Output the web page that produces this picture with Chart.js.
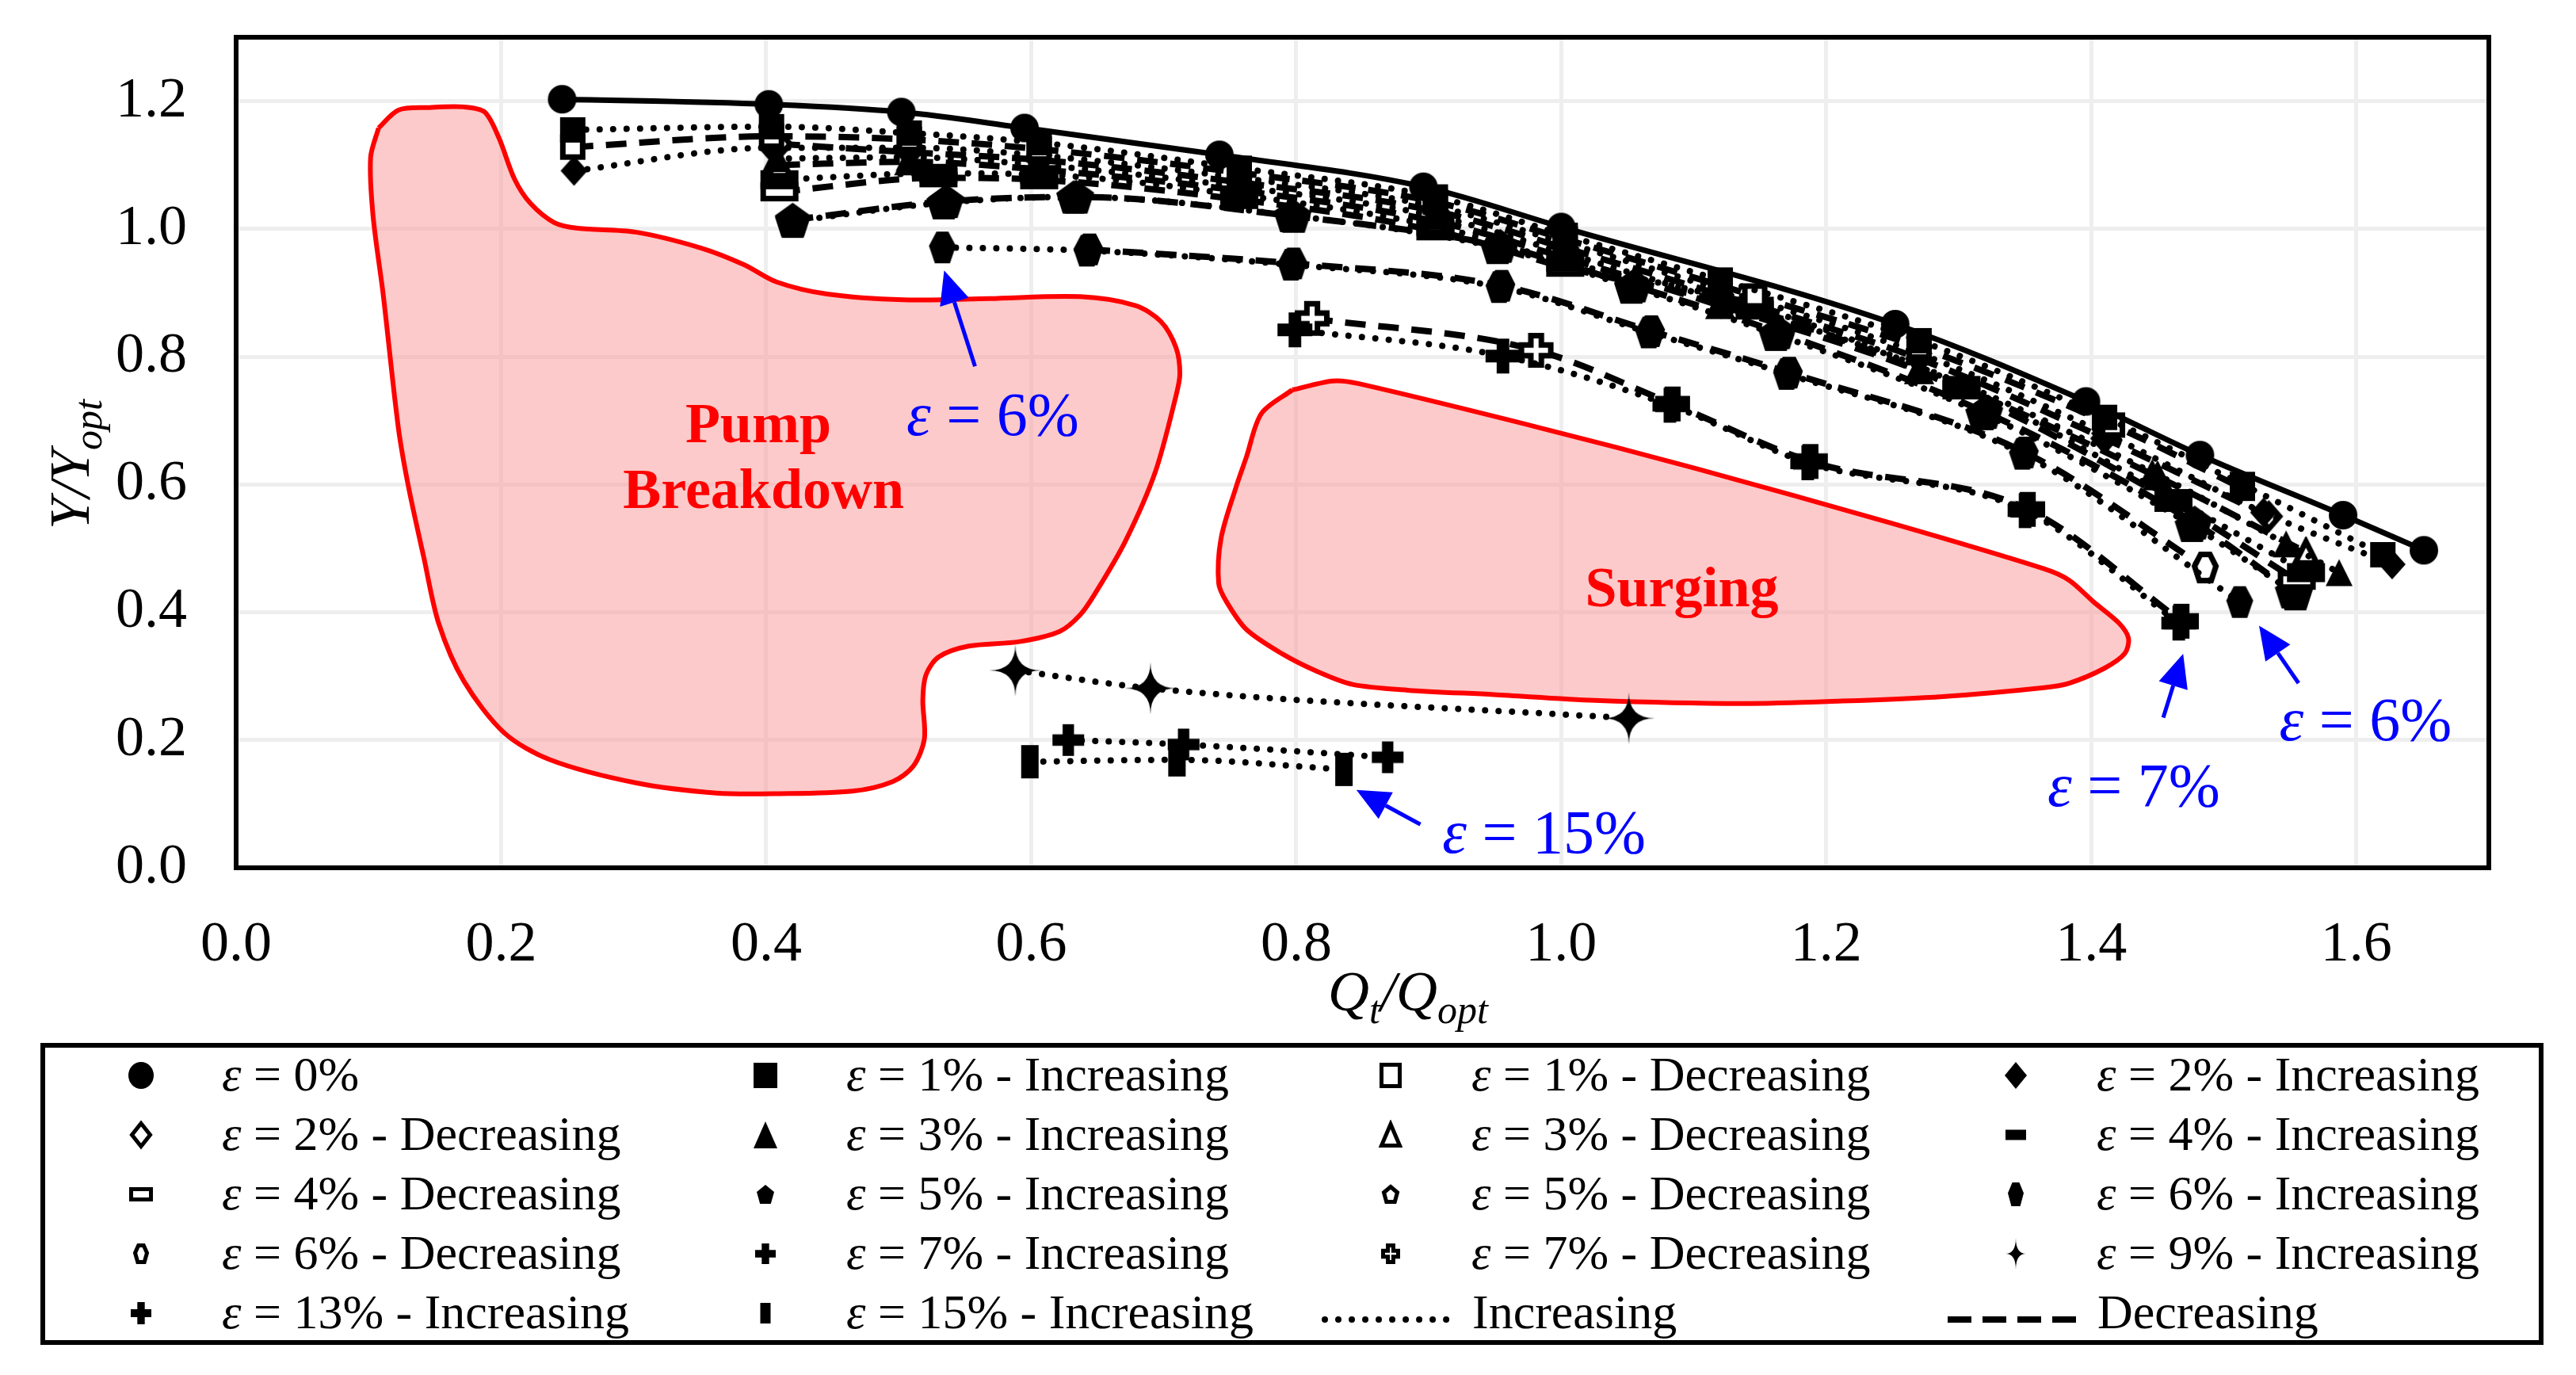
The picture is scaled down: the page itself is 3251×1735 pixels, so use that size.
<!DOCTYPE html>
<html>
<head>
<meta charset="utf-8">
<title>Head vs flow with gas volume fraction</title>
<script src="https://cdn.jsdelivr.net/npm/chart.js@4.4.1/dist/chart.umd.min.js"></script>
<style>
  html, body { margin: 0; padding: 0; background: #fff; }
  canvas { display: block; }
</style>
</head>
<body>
<canvas id="chart" width="3251" height="1735"></canvas>
<script>
// Axis ticks
const tickQ = [0.0, 0.2, 0.4, 0.6, 0.8, 1.0, 1.2, 1.4, 1.6];
const tickY = [0.0, 0.2, 0.4, 0.6, 0.8, 1.0, 1.2];

// eps = 0%
const q_e0 = [0.246, 0.402, 0.502, 0.595, 0.742, 0.896, 1.000, 1.252, 1.396, 1.482, 1.590, 1.651];
const y_e0 = [1.203, 1.195, 1.183, 1.158, 1.116, 1.066, 1.003, 0.851, 0.730, 0.646, 0.552, 0.497];

// eps = 1%
const q_e1i = [0.254, 0.404, 0.508, 0.606, 0.757, 0.905, 1.003, 1.120, 1.270, 1.410, 1.514, 1.620];
const y_e1i = [1.155, 1.160, 1.150, 1.135, 1.095, 1.050, 0.990, 0.920, 0.825, 0.705, 0.600, 0.490];
const q_e1d = [0.254, 0.404, 0.508, 0.606, 0.757, 0.905, 1.003, 1.146, 1.270, 1.416, 1.514];
const y_e1d = [1.128, 1.145, 1.140, 1.125, 1.088, 1.042, 0.984, 0.895, 0.815, 0.693, 0.594];

// eps = 2%
const q_e2i = [0.255, 0.404, 0.508, 0.606, 0.757, 0.905, 1.003, 1.120, 1.270, 1.410, 1.530, 1.627];
const y_e2i = [1.091, 1.127, 1.127, 1.115, 1.080, 1.035, 0.978, 0.905, 0.805, 0.680, 0.556, 0.475];
const q_e2d = [0.410, 0.508, 0.606, 0.757, 0.905, 1.003, 1.120, 1.270, 1.410, 1.534];
const y_e2d = [1.133, 1.120, 1.108, 1.073, 1.028, 0.970, 0.897, 0.797, 0.672, 0.550];

// eps = 3%
const q_e3i = [0.407, 0.508, 0.606, 0.757, 0.905, 1.003, 1.120, 1.270, 1.446, 1.547, 1.587];
const y_e3i = [1.110, 1.112, 1.100, 1.066, 1.020, 0.962, 0.888, 0.785, 0.619, 0.507, 0.462];
const q_e3d = [0.410, 0.508, 0.606, 0.757, 0.905, 1.003, 1.120, 1.270, 1.450, 1.562];
const y_e3d = [1.100, 1.105, 1.093, 1.060, 1.012, 0.955, 0.880, 0.778, 0.612, 0.494];

// eps = 4%
const q_e4i = [0.410, 0.530, 0.606, 0.757, 0.905, 1.003, 1.146, 1.302, 1.462, 1.562];
const y_e4i = [1.077, 1.087, 1.085, 1.053, 1.004, 0.948, 0.879, 0.755, 0.578, 0.462];
const q_e4d = [0.410, 0.530, 0.606, 0.757, 0.905, 1.003, 1.146, 1.302, 1.462, 1.555];
const y_e4d = [1.058, 1.080, 1.077, 1.046, 0.997, 0.940, 0.873, 0.748, 0.572, 0.450];

// eps = 5%
const q_e5i = [0.420, 0.534, 0.632, 0.796, 0.952, 1.053, 1.162, 1.318, 1.476, 1.554];
const y_e5i = [1.012, 1.041, 1.050, 1.021, 0.971, 0.909, 0.835, 0.711, 0.536, 0.429];
const q_e5d = [0.420, 0.536, 0.634, 0.798, 0.954, 1.055, 1.164, 1.320, 1.478, 1.552];
const y_e5d = [1.014, 1.043, 1.050, 1.020, 0.973, 0.911, 0.838, 0.713, 0.540, 0.432];

// eps = 6%
const q_e6i = [0.533, 0.642, 0.796, 0.953, 1.066, 1.170, 1.348, 1.512];
const y_e6i = [0.971, 0.966, 0.944, 0.909, 0.838, 0.773, 0.648, 0.416];
const q_e6d = [0.644, 0.798, 0.955, 1.068, 1.172, 1.350, 1.486];
const y_e6d = [0.968, 0.946, 0.911, 0.840, 0.775, 0.650, 0.470];

// eps = 7%
const q_e7i = [0.799, 0.956, 1.082, 1.186, 1.350, 1.466];
const y_e7i = [0.842, 0.801, 0.724, 0.634, 0.559, 0.383];
const q_e7d = [0.812, 0.981, 1.084, 1.188, 1.352, 1.468];
const y_e7d = [0.860, 0.810, 0.726, 0.636, 0.561, 0.386];

// eps = 9%, 13%, 15%
const q_e9i = [0.588, 0.690, 1.051];
const y_e9i = [0.309, 0.281, 0.234];
const q_e13i = [0.628, 0.715, 0.869];
const y_e13i = [0.200, 0.193, 0.173];
const q_e15i = [0.599, 0.710, 0.836];
const y_e15i = [0.166, 0.169, 0.154];

// Operating zones (outline, clockwise)
const pumpQ = [0.1075, 0.1224, 0.1445, 0.1719, 0.1875, 0.1982, 0.2101, 0.2221, 0.2400, 0.2579, 0.3015, 0.3510,
  0.3833, 0.4078, 0.4460, 0.5033, 0.5684, 0.6370, 0.6788, 0.6979, 0.7093, 0.7122, 0.7093, 0.6937, 0.6710,
  0.6484, 0.6370, 0.6215, 0.5910, 0.5528, 0.5301, 0.5206, 0.5182, 0.5194, 0.5110, 0.4955, 0.4651, 0.4084,
  0.3624, 0.3015, 0.2370, 0.2024, 0.1719, 0.1528, 0.1415, 0.1301, 0.1224, 0.1110, 0.1033, 0.1015, 0.1075];
const pumpY = [1.158, 1.186, 1.190, 1.191, 1.183, 1.143, 1.078, 1.040, 1.010, 1.001, 0.995, 0.970,
  0.944, 0.917, 0.898, 0.889, 0.891, 0.894, 0.880, 0.855, 0.814, 0.773, 0.739, 0.620, 0.511,
  0.430, 0.396, 0.370, 0.354, 0.347, 0.330, 0.302, 0.263, 0.202, 0.159, 0.135, 0.120, 0.116,
  0.117, 0.133, 0.169, 0.211, 0.292, 0.383, 0.487, 0.596, 0.689, 0.897, 1.021, 1.112, 1.158];

const surgeQ = [0.7970, 0.8275, 0.8466, 0.9833, 1.1015, 1.2496, 1.3642, 1.3833, 1.4018, 1.4209, 1.4281, 1.4251,
  1.4096, 1.3833, 1.3642, 1.2878, 1.2119, 1.1355, 1.0251, 0.9493, 0.8842, 0.8424, 0.8161, 0.7893,
  0.7624, 0.7475, 0.7415, 0.7433, 0.7546, 0.7624, 0.7737, 0.7970];
const surgeY = [0.748, 0.762, 0.758, 0.689, 0.625, 0.539, 0.468, 0.450, 0.416, 0.383, 0.359, 0.335,
  0.312, 0.289, 0.282, 0.268, 0.261, 0.257, 0.262, 0.271, 0.278, 0.287, 0.307, 0.335,
  0.373, 0.416, 0.445, 0.516, 0.596, 0.643, 0.711, 0.748];

// Annotations (data coordinates)
const zoneLabels = [
  { text: 'Pump', q: 0.394, y: 0.666 },
  { text: 'Breakdown', q: 0.398, y: 0.563 },
  { text: 'Surging', q: 1.091, y: 0.409 }
];
const epsLabels = [
  { text: ' = 6%', q: 0.571, y: 0.677 },
  { text: ' = 15%', q: 0.987, y: 0.024 },
  { text: ' = 7%', q: 1.432, y: 0.097 },
  { text: ' = 6%', q: 1.607, y: 0.200 }
];
const arrows = [
  { q0: 0.5576, y0: 0.785, q1: 0.5343, y1: 0.935 },
  { q0: 0.8937, y0: 0.068, q1: 0.8454, y1: 0.122 },
  { q0: 1.4543, y0: 0.235, q1: 1.4693, y1: 0.335 },
  { q0: 1.5564, y0: 0.289, q1: 1.5266, y1: 0.379 }
];

const SERIF = "'Liberation Serif', 'Times New Roman', serif";

const POLY = {
  rect: [[0, 0], [1, 0], [1, 1], [0, 1]],
  diamond: [[0.5, 0], [1, 0.5], [0.5, 1], [0, 0.5]],
  triangle: [[0.5, 0], [1, 1], [0, 1]],
  pentagon: [[0.5, 0], [1, 0.38], [0.81, 1], [0.19, 1], [0, 0.38]],
  hexagon: [[0.28, 0], [0.72, 0], [1, 0.45], [0.78, 1], [0.22, 1], [0, 0.45]],
  cross: [[0.32, 0], [0.68, 0], [0.68, 0.32], [1, 0.32], [1, 0.68], [0.68, 0.68], [0.68, 1], [0.32, 1],
    [0.32, 0.68], [0, 0.68], [0, 0.32], [0.32, 0.32]]
};

function shapePath(g, shape, w, h) {
  g.beginPath();
  if (shape === 'circle') {
    g.ellipse(w / 2, h / 2, w / 2, h / 2, 0, 0, Math.PI * 2);
    return;
  }
  if (shape === 'star') {
    const cx = w / 2, cy = h / 2;
    g.moveTo(cx, 0);
    g.quadraticCurveTo(cx, cy, w, cy);
    g.quadraticCurveTo(cx, cy, cx, h);
    g.quadraticCurveTo(cx, cy, 0, cy);
    g.quadraticCurveTo(cx, cy, cx, 0);
    g.closePath();
    return;
  }
  POLY[shape].forEach((p, i) => {
    if (i === 0) g.moveTo(p[0] * w, p[1] * h);
    else g.lineTo(p[0] * w, p[1] * h);
  });
  g.closePath();
}

// Marker bitmap used as pointStyle
function makeMarker(shape, w, h, hollow, lw) {
  const pad = 3;
  const c = document.createElement('canvas');
  c.width = w + pad * 2;
  c.height = h + pad * 2;
  const g = c.getContext('2d');
  if (hollow) {
    g.translate(pad + lw / 2, pad + lw / 2);
    shapePath(g, shape, w - lw, h - lw);
    g.fillStyle = '#fff';
    g.fill();
    g.lineWidth = lw;
    g.lineJoin = 'miter';
    g.strokeStyle = '#000';
    g.stroke();
  } else {
    g.translate(pad, pad);
    shapePath(g, shape, w, h);
    g.fillStyle = '#000';
    g.fill();
  }
  return c;
}

const series = [
  { label: ' = 0%', q: q_e0, y: y_e0, shape: 'circle', hollow: false, line: 'solid', plot: [36, 36], leg: [32, 34] },
  { label: ' = 1% - Increasing', q: q_e1i, y: y_e1i, shape: 'rect', hollow: false, line: 'dot', plot: [32, 32], leg: [30, 32] },
  { label: ' = 1% - Decreasing', q: q_e1d, y: y_e1d, shape: 'rect', hollow: true, line: 'dash', plot: [32, 32], leg: [28, 32] },
  { label: ' = 2% - Increasing', q: q_e2i, y: y_e2i, shape: 'diamond', hollow: false, line: 'dot', plot: [34, 38], leg: [28, 34] },
  { label: ' = 2% - Decreasing', q: q_e2d, y: y_e2d, shape: 'diamond', hollow: true, line: 'dash', plot: [34, 38], leg: [28, 34] },
  { label: ' = 3% - Increasing', q: q_e3i, y: y_e3i, shape: 'triangle', hollow: false, line: 'dot', plot: [34, 34], leg: [30, 34] },
  { label: ' = 3% - Decreasing', q: q_e3d, y: y_e3d, shape: 'triangle', hollow: true, line: 'dash', plot: [34, 34], leg: [28, 32] },
  { label: ' = 4% - Increasing', q: q_e4i, y: y_e4i, shape: 'rect', hollow: false, line: 'dot', plot: [48, 24], leg: [26, 13] },
  { label: ' = 4% - Decreasing', q: q_e4d, y: y_e4d, shape: 'rect', hollow: true, line: 'dash', plot: [48, 24], leg: [30, 18] },
  { label: ' = 5% - Increasing', q: q_e5i, y: y_e5i, shape: 'pentagon', hollow: false, line: 'dot', plot: [44, 42], leg: [22, 24] },
  { label: ' = 5% - Decreasing', q: q_e5d, y: y_e5d, shape: 'pentagon', hollow: true, line: 'dash', plot: [44, 42], leg: [22, 24] },
  { label: ' = 6% - Increasing', q: q_e6i, y: y_e6i, shape: 'hexagon', hollow: false, line: 'dot', plot: [34, 40], leg: [20, 30] },
  { label: ' = 6% - Decreasing', q: q_e6d, y: y_e6d, shape: 'hexagon', hollow: true, line: 'dash', plot: [34, 40], leg: [20, 26] },
  { label: ' = 7% - Increasing', q: q_e7i, y: y_e7i, shape: 'cross', hollow: false, line: 'dot', plot: [44, 44], leg: [26, 26] },
  { label: ' = 7% - Decreasing', q: q_e7d, y: y_e7d, shape: 'cross', hollow: true, line: 'dash', plot: [44, 44], leg: [24, 26] },
  { label: ' = 9% - Increasing', q: q_e9i, y: y_e9i, shape: 'star', hollow: false, line: 'dot', plot: [66, 66], leg: [26, 40] },
  { label: ' = 13% - Increasing', q: q_e13i, y: y_e13i, shape: 'cross', hollow: false, line: 'dot', plot: [40, 40], leg: [26, 28] },
  { label: ' = 15% - Increasing', q: q_e15i, y: y_e15i, shape: 'rect', hollow: false, line: 'dot', plot: [22, 42], leg: [13, 26] }
];

const LINE = {
  solid: { borderWidth: 7, borderDash: [], borderCapStyle: 'butt' },
  dot: { borderWidth: 8, borderDash: [0.01, 17], borderCapStyle: 'round' },
  dash: { borderWidth: 8, borderDash: [26, 16], borderCapStyle: 'butt' }
};

const toPoints = (qs, ys) => qs.map((q, i) => ({ x: q, y: ys[i] }));

const datasets = series.map(s => Object.assign({
  label: 'ε' + s.label,
  data: toPoints(s.q, s.y),
  showLine: true,
  borderColor: '#000',
  backgroundColor: '#000',
  pointStyle: makeMarker(s.shape, s.plot[0], s.plot[1], s.hollow, 7),
  pointRadius: 10,
  cubicInterpolationMode: 'monotone',
  fill: false,
  order: 0
}, LINE[s.line]));

const zoneStyle = {
  showLine: true,
  fill: 'shape',
  backgroundColor: 'rgba(250, 150, 150, 0.5)',
  borderColor: '#ff0000',
  borderWidth: 6,
  pointRadius: 0,
  tension: 0.3,
  order: 10
};
datasets.push(Object.assign({ label: 'Pump Breakdown', data: toPoints(pumpQ, pumpY) }, zoneStyle));
datasets.push(Object.assign({ label: 'Surging', data: toPoints(surgeQ, surgeY) }, zoneStyle));

// Helpers for drawn text
function epsText(ctx, x, y, rest, size, color, center) {
  const it = 'italic ' + size + 'px ' + SERIF;
  const rg = size + 'px ' + SERIF;
  ctx.font = it;
  const w1 = ctx.measureText('ε').width;
  ctx.font = rg;
  const w2 = ctx.measureText(rest).width;
  const x0 = center ? x - (w1 + w2) / 2 : x;
  ctx.fillStyle = color;
  ctx.textAlign = 'left';
  ctx.textBaseline = 'alphabetic';
  ctx.font = it;
  ctx.fillText('ε', x0, y);
  ctx.font = rg;
  ctx.fillText(rest, x0 + w1, y);
}

function subTitle(ctx, parts, x, y, size) {
  const main = 'italic ' + size + 'px ' + SERIF;
  const sub = 'italic ' + Math.round(size * 0.7) + 'px ' + SERIF;
  let total = 0;
  parts.forEach(p => { ctx.font = p[1] ? sub : main; total += ctx.measureText(p[0]).width; });
  let cx = x - total / 2;
  ctx.fillStyle = '#000';
  ctx.textAlign = 'left';
  ctx.textBaseline = 'alphabetic';
  parts.forEach(p => {
    ctx.font = p[1] ? sub : main;
    ctx.fillText(p[0], cx, y + (p[1] ? size * 0.22 : 0));
    cx += ctx.measureText(p[0]).width;
  });
}

function drawArrow(ctx, x0, y0, x1, y1) {
  const ang = Math.atan2(y1 - y0, x1 - x0);
  const L = 42, W = 19;
  const bx = x1 - L * Math.cos(ang), by = y1 - L * Math.sin(ang);
  ctx.strokeStyle = '#0000ff';
  ctx.fillStyle = '#0000ff';
  ctx.lineWidth = 5;
  ctx.setLineDash([]);
  ctx.beginPath();
  ctx.moveTo(x0, y0);
  ctx.lineTo(bx, by);
  ctx.stroke();
  ctx.beginPath();
  ctx.moveTo(x1, y1);
  ctx.lineTo(bx + W * Math.sin(ang), by - W * Math.cos(ang));
  ctx.lineTo(bx - W * Math.sin(ang), by + W * Math.cos(ang));
  ctx.closePath();
  ctx.fill();
}

const annotations = {
  id: 'annotations',
  afterDatasetsDraw(chart) {
    const ctx = chart.ctx, xs = chart.scales.x, ys = chart.scales.y;
    ctx.save();
    ctx.fillStyle = '#ff0000';
    ctx.font = 'bold 72px ' + SERIF;
    ctx.textAlign = 'center';
    ctx.textBaseline = 'alphabetic';
    zoneLabels.forEach(l => ctx.fillText(l.text, xs.getPixelForValue(l.q), ys.getPixelForValue(l.y)));
    epsLabels.forEach(l => epsText(ctx, xs.getPixelForValue(l.q), ys.getPixelForValue(l.y), l.text, 78, '#0000ff', true));
    arrows.forEach(a => drawArrow(ctx, xs.getPixelForValue(a.q0), ys.getPixelForValue(a.y0),
      xs.getPixelForValue(a.q1), ys.getPixelForValue(a.y1)));
    ctx.restore();
  }
};

const LEG = { left: 54, top: 1319, right: 3207, bottom: 1694,
  colX: [178, 966, 1755, 2544], rowY: [1357, 1432, 1507, 1582, 1657], textDx: 102 };

const frameAndLegend = {
  id: 'frameAndLegend',
  afterDraw(chart) {
    const ctx = chart.ctx, a = chart.chartArea;
    ctx.save();
    ctx.strokeStyle = '#000';
    ctx.lineWidth = 6;
    ctx.setLineDash([]);
    ctx.strokeRect(a.left, a.top, a.right - a.left, a.bottom - a.top);

    // axis titles
    subTitle(ctx, [['Q', 0], ['t', 1], ['/Q', 0], ['opt', 1]], 1777, 1275, 72);
    ctx.save();
    ctx.translate(112, 586);
    ctx.rotate(-Math.PI / 2);
    subTitle(ctx, [['Υ/Υ', 0], ['opt', 1]], 0, 0, 72);
    ctx.restore();

    // legend box
    ctx.strokeRect(LEG.left, LEG.top, LEG.right - LEG.left, LEG.bottom - LEG.top);
    series.forEach((s, i) => {
      const cx = LEG.colX[i % 4], cy = LEG.rowY[Math.floor(i / 4)];
      const m = makeMarker(s.shape, s.leg[0], s.leg[1], s.hollow, 5);
      ctx.drawImage(m, cx - m.width / 2, cy - m.height / 2);
      epsText(ctx, cx + LEG.textDx, cy + 19, s.label, 62, '#000', false);
    });
    const ry = LEG.rowY[4];
    ctx.strokeStyle = '#000';
    ctx.lineWidth = 8;
    ctx.lineCap = 'round';
    ctx.setLineDash([0.01, 17]);
    ctx.beginPath(); ctx.moveTo(1672, ry + 8); ctx.lineTo(1840, ry + 8); ctx.stroke();
    ctx.lineCap = 'butt';
    ctx.setLineDash([30, 14]);
    ctx.beginPath(); ctx.moveTo(2458, ry + 8); ctx.lineTo(2625, ry + 8); ctx.stroke();
    ctx.setLineDash([]);
    ctx.fillStyle = '#000';
    ctx.font = '62px ' + SERIF;
    ctx.textAlign = 'left';
    ctx.textBaseline = 'alphabetic';
    ctx.fillText('Increasing', 1858, ry + 19);
    ctx.fillText('Decreasing', 2647, ry + 19);
    ctx.restore();
  }
};

new Chart(document.getElementById('chart'), {
  type: 'scatter',
  data: { datasets },
  plugins: [annotations, frameAndLegend],
  options: {
    responsive: false,
    animation: false,
    devicePixelRatio: 1,
    layout: { padding: { left: 0, right: 110, top: 47, bottom: 0 } },
    plugins: { legend: { display: false }, tooltip: { enabled: false } },
    scales: {
      x: {
        type: 'linear', min: 0, max: 1.7,
        afterBuildTicks: s => { s.ticks = tickQ.map(v => ({ value: v })); },
        afterFit: s => { s.height = 640; s.paddingLeft = 0; s.paddingRight = 0; },
        grid: { color: '#eeeeee', lineWidth: 5, drawTicks: false },
        border: { display: false },
        ticks: { autoSkip: false, maxRotation: 0, padding: 55, color: '#000',
          font: { family: SERIF, size: 72 }, callback: v => v.toFixed(1) }
      },
      y: {
        type: 'linear', min: 0, max: 1.3,
        afterBuildTicks: s => { s.ticks = tickY.map(v => ({ value: v })); },
        afterFit: s => { s.width = 298; s.paddingTop = 0; s.paddingBottom = 0; },
        grid: { color: '#eeeeee', lineWidth: 5, drawTicks: false },
        border: { display: false },
        ticks: { autoSkip: false, padding: 62, color: '#000',
          font: { family: SERIF, size: 72 }, callback: v => v.toFixed(1) }
      }
    }
  }
});
</script>
</body>
</html>
